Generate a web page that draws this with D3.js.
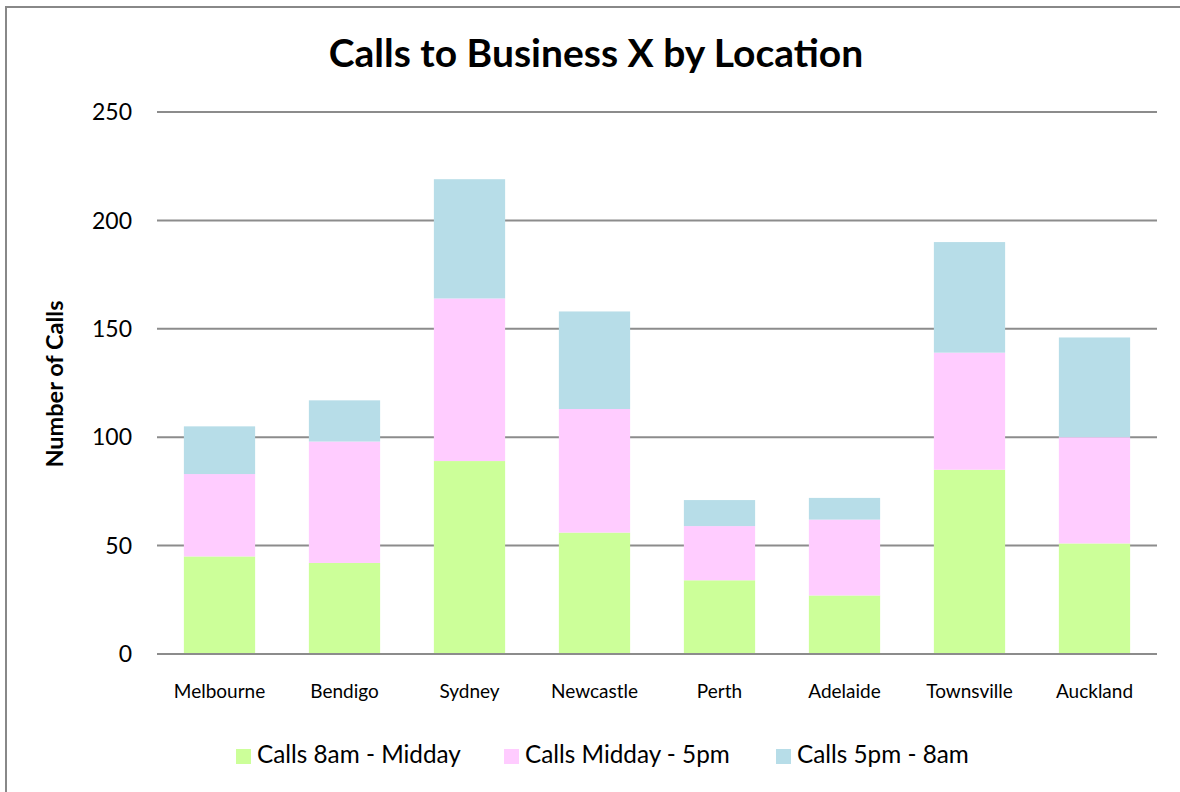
<!DOCTYPE html>
<html>
<head>
<meta charset="utf-8">
<script src="https://cdn.jsdelivr.net/npm/d3@7"></script>
<style>
  body { margin: 0; background: #fff; }
  svg { display: block; font-family: Lato, "Open Sans", sans-serif; }
</style>
</head>
<body>
<div id="chart"></div>
<script>
const locations = ["Melbourne", "Bendigo", "Sydney", "Newcastle", "Perth", "Adelaide", "Townsville", "Auckland"];
const morning = [45, 42, 89, 56, 34, 27, 85, 51];
const afternoon = [38, 56, 75, 57, 25, 35, 54, 49];
const evening = [22, 19, 55, 45, 12, 10, 51, 46];
const seriesNames = ["Calls 8am - Midday", "Calls Midday - 5pm", "Calls 5pm - 8am"];
const yTicks = [0, 50, 100, 150, 200, 250];

const width = 1180, height = 792;
const colors = ["#ccff99", "#ffccff", "#b7dde8"];
const margin = { top: 112, right: 23, bottom: 138, left: 157 };

const svg = d3.select("#chart").append("svg")
    .attr("width", width)
    .attr("height", height);

// outer chart frame
svg.append("rect")
    .attr("x", 6).attr("y", 7)
    .attr("width", 1180).attr("height", 800)
    .attr("fill", "#fff")
    .attr("stroke", "#888")
    .attr("stroke-width", 2);

const x = d3.scaleBand()
    .domain(locations)
    .range([margin.left, width - margin.right])
    .paddingInner(0.43)
    .paddingOuter(0.215);

const y = d3.scaleLinear()
    .domain([0, 250])
    .range([height - margin.bottom, margin.top]);

const rows = locations.map((loc, i) => ({
    loc, s0: morning[i], s1: afternoon[i], s2: evening[i]
}));
const stack = d3.stack().keys(["s0", "s1", "s2"])(rows);

// gridlines
svg.append("g")
    .selectAll("line")
    .data(yTicks)
    .join("line")
    .attr("x1", margin.left)
    .attr("x2", width - margin.right)
    .attr("y1", d => y(d))
    .attr("y2", d => y(d))
    .attr("stroke", "#8c8c8c")
    .attr("stroke-width", 2);

// bars
svg.append("g")
    .selectAll("g")
    .data(stack)
    .join("g")
    .attr("fill", (d, i) => colors[i])
    .selectAll("rect")
    .data(d => d)
    .join("rect")
    .attr("x", d => x(d.data.loc))
    .attr("width", x.bandwidth())
    .attr("y", d => y(d[1]))
    .attr("height", d => y(d[0]) - y(d[1]));

// baseline over bars
svg.append("line")
    .attr("x1", margin.left).attr("x2", width - margin.right)
    .attr("y1", y(0)).attr("y2", y(0))
    .attr("stroke", "#8c8c8c").attr("stroke-width", 2);

// y tick labels
svg.append("g")
    .selectAll("text")
    .data(yTicks)
    .join("text")
    .attr("x", 132)
    .attr("y", d => y(d))
    .attr("dy", "0.36em")
    .attr("text-anchor", "end")
    .attr("font-size", 23)
    .text(d => d);

// category labels
svg.append("g")
    .selectAll("text")
    .data(locations)
    .join("text")
    .attr("x", d => x(d) + x.bandwidth() / 2)
    .attr("y", 698)
    .attr("text-anchor", "middle")
    .attr("font-size", 19)
    .text(d => d);

// title
svg.append("text")
    .attr("x", 596)
    .attr("y", 67)
    .attr("text-anchor", "middle")
    .attr("font-size", 39)
    .attr("font-weight", "bold")
    .text("Calls to Business X by Location");

// y axis title
svg.append("text")
    .attr("transform", "translate(63,384) rotate(-90)")
    .attr("text-anchor", "middle")
    .attr("font-size", 23.5)
    .attr("font-weight", "bold")
    .text("Number of Calls");

// legend
const legendX = [236, 504, 776];
const legend = svg.append("g")
    .selectAll("g")
    .data(seriesNames)
    .join("g")
    .attr("transform", (d, i) => `translate(${legendX[i]},749)`);
legend.append("rect")
    .attr("width", 15).attr("height", 15)
    .attr("fill", (d, i) => colors[i]);
legend.append("text")
    .attr("x", 21)
    .attr("y", 14)
    .attr("font-size", 24.3)
    .text(d => d);
</script>
</body>
</html>
